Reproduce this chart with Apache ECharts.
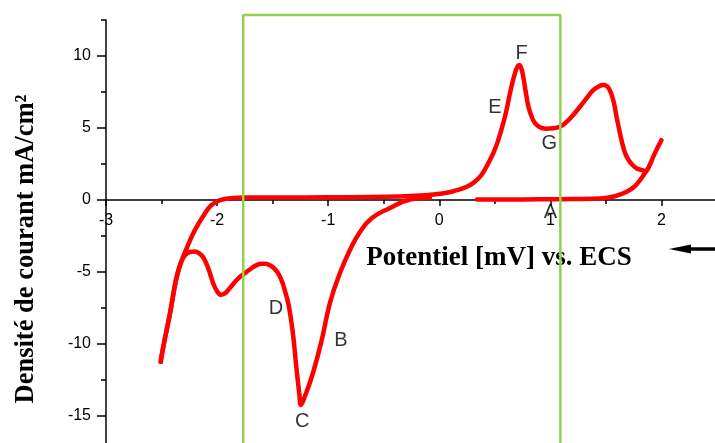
<!DOCTYPE html>
<html>
<head>
<meta charset="utf-8">
<script src="https://cdn.jsdelivr.net/npm/echarts@6/dist/echarts.min.js"></script>
<style>
  html, body { margin: 0; padding: 0; background: #fff; }
  #chart { width: 715px; height: 443px; }
</style>
</head>
<body>
<div id="chart"></div>
<script>
// Cyclic voltammogram: current density (mA/cm²) vs. potential (V vs. ECS)

// Positive-going baseline up to the anodic vertex
const sweepAnodicStart = [
  [0.34, 0.03], [0.6, 0.03], [0.9, 0.04], [1.2, 0.06], [1.45, 0.1], [1.58, 0.25],
  [1.687, 0.56], [1.76, 0.95], [1.807, 1.38], [1.85, 1.85], [1.88, 2.19],
  [1.94, 3.23], [2.0, 4.15]
];

// Return from the anodic vertex: oxidation peaks F and the 1.5 V peak, then the
// flat region and the descent to the cathodic vertex
const sweepReturn = [
  [1.86, 1.98], [1.81, 2.1], [1.777, 2.19], [1.73, 2.5], [1.687, 3.0], [1.655, 3.7],
  [1.627, 4.62], [1.595, 5.8], [1.566, 6.94], [1.53, 7.7], [1.5, 7.95], [1.476, 7.98],
  [1.44, 7.9], [1.386, 7.63], [1.33, 7.1], [1.266, 6.47], [1.2, 5.85], [1.147, 5.43],
  [1.09, 5.1], [1.026, 4.97], [0.96, 4.95], [0.906, 5.04], [0.86, 5.35], [0.832, 5.78],
  [0.805, 6.4], [0.786, 7.16], [0.77, 7.9], [0.756, 8.55], [0.74, 9.1], [0.72, 9.37],
  [0.7, 9.2], [0.681, 8.79], [0.66, 8.2], [0.636, 7.4], [0.615, 6.6], [0.591, 5.78],
  [0.56, 4.9], [0.531, 4.16], [0.495, 3.4], [0.456, 2.77], [0.41, 2.1], [0.366, 1.6],
  [0.31, 1.2], [0.247, 0.91], [0.16, 0.68], [0.067, 0.49], [-0.05, 0.38], [-0.174, 0.3],
  [-0.354, 0.24], [-0.624, 0.2], [-1.0, 0.18], [-1.4, 0.17], [-1.7, 0.16], [-1.884, 0.12],
  [-1.974, -0.02], [-2.05, -0.36], [-2.11, -0.94], [-2.2, -2.1], [-2.27, -3.3],
  [-2.33, -4.45], [-2.37, -5.57], [-2.424, -7.89], [-2.484, -10.2], [-2.508, -11.25]
];

// Reduction branch from the cathodic vertex through peaks D, C and B
const sweepCathodic = [
  [-2.508, -11.25], [-2.484, -10.2], [-2.424, -7.89], [-2.37, -5.57], [-2.33, -4.45],
  [-2.29, -3.85], [-2.245, -3.62], [-2.2, -3.58], [-2.16, -3.72], [-2.124, -4.0],
  [-2.09, -4.55], [-2.064, -5.11], [-2.035, -5.8], [-2.0, -6.35], [-1.965, -6.6],
  [-1.93, -6.5], [-1.9, -6.27], [-1.86, -5.9], [-1.824, -5.57], [-1.78, -5.25],
  [-1.734, -5.0], [-1.69, -4.75], [-1.644, -4.53], [-1.6, -4.44], [-1.569, -4.44],
  [-1.53, -4.52], [-1.494, -4.7], [-1.455, -5.05], [-1.419, -5.6], [-1.39, -6.3],
  [-1.359, -7.2], [-1.335, -8.3], [-1.314, -9.51], [-1.284, -11.83], [-1.26, -13.45],
  [-1.245, -14.25], [-1.209, -13.63], [-1.137, -12.03], [-1.058, -9.74], [-0.984, -7.16],
  [-0.894, -5.08], [-0.804, -3.48], [-0.714, -2.23], [-0.606, -1.26], [-0.444, -0.56],
  [-0.264, 0.03], [-0.084, 0.17]
];

// Point annotations (letter, potential, current density)
const pointNames = ['A', 'B', 'C', 'D', 'E', 'F', 'G'];
const pointX = [1.0, -0.885, -1.233, -1.47, 0.501, 0.742, 0.99];
const pointY = [-0.88, -9.74, -15.42, -7.54, 6.45, 10.2, 3.95];

// Potential window highlighted by the green frame
const windowLeft = -1.765;
const windowRight = 1.09;
const windowTop = 12.85;
const windowBottom = -20;

// Axis ranges and tick spacing
const xMin = -3, xMax = 2.5, xStep = 1;
const yMin = -20, yMax = 12.5, yStep = 5, yMinorStep = 2.5;

// Plot frame (px); the value axis extends below the visible page
const gridTop = 20, gridBottom = -44.7, pageHeight = 443;

const chart = echarts.init(document.getElementById('chart'));

const tickFont = { fontFamily: 'Liberation Sans, Arial, sans-serif', fontSize: 16, color: '#000' };
const axisLine = { lineStyle: { color: '#000', width: 1.5 } };

// Place the potential axis on the j = 0 line
const plotHeight = pageHeight - gridTop - gridBottom;
const zeroFromBottom = plotHeight * (0 - yMin) / (yMax - yMin);

const framePath = [
  [windowLeft, windowBottom], [windowLeft, windowTop],
  [windowRight, windowTop], [windowRight, windowBottom]
];

const curveStyle = { color: '#ff0000', width: 4.5, cap: 'round', join: 'round' };
const curveSmooth = 0.45;

chart.setOption({
  animation: false,
  backgroundColor: '#fff',
  grid: {
    left: 106, right: -2, top: gridTop, bottom: gridBottom,
    containLabel: false, outerBoundsMode: 'none'
  },
  xAxis: {
    type: 'value', min: xMin, max: xMax, interval: xStep,
    position: 'bottom', offset: -zeroFromBottom,
    axisLine: { onZero: false, lineStyle: { color: '#000', width: 1.5 } },
    axisTick: { show: true, inside: false, length: 6, lineStyle: { color: '#000', width: 1.5 } },
    minorTick: { show: true, splitNumber: 2, length: 4, lineStyle: { color: '#000', width: 1.5 } },
    axisLabel: Object.assign({ margin: 13, showMaxLabel: false, showMinLabel: true }, tickFont),
    splitLine: { show: false }
  },
  yAxis: [
    {
      type: 'value', position: 'left', min: yMin, max: yMax, interval: yStep,
      axisLine: Object.assign({ onZero: false }, axisLine),
      axisTick: { show: true, length: 9, lineStyle: { color: '#000', width: 1.5 } },
      axisLabel: Object.assign({ margin: 15, showMaxLabel: false }, tickFont),
      splitLine: { show: false }
    },
    {
      type: 'value', position: 'left', min: yMin, max: yMax, interval: yMinorStep,
      axisLine: { show: false, onZero: false },
      axisTick: { show: true, length: 5, lineStyle: { color: '#000', width: 1.5 } },
      axisLabel: { show: false },
      splitLine: { show: false }
    }
  ],
  series: [
    {
      type: 'line', data: sweepAnodicStart, smooth: curveSmooth, showSymbol: false,
      lineStyle: curveStyle, z: 3
    },
    {
      type: 'line', data: sweepReturn, smooth: curveSmooth, showSymbol: false,
      lineStyle: curveStyle, z: 3
    },
    {
      type: 'line', data: sweepCathodic, smooth: curveSmooth, showSymbol: false,
      lineStyle: curveStyle, z: 3
    },
    {
      type: 'scatter',
      data: pointNames.map((n, i) => ({ name: n, value: [pointX[i], pointY[i]] })),
      symbolSize: 1,
      itemStyle: { color: 'transparent' },
      label: {
        show: true, position: 'inside', formatter: '{b}',
        fontFamily: 'Liberation Sans, Arial, sans-serif', fontSize: 20, color: '#000'
      },
      z: 4
    },
    {
      type: 'line', data: framePath, clip: false, showSymbol: false,
      lineStyle: { color: '#92d050', width: 2.5 }, z: 10
    }
  ],
  graphic: [
    {
      type: 'text', z: 1, x: 26, y: 249, rotation: Math.PI / 2,
      style: {
        text: 'Densité de courant mA/cm²', fill: '#000',
        font: 'bold 26.5px "Liberation Serif", "Times New Roman", serif',
        textAlign: 'center', textVerticalAlign: 'middle'
      }
    },
    {
      type: 'text', z: 1, x: 499, y: 258,
      style: {
        text: 'Potentiel [mV] vs. ECS', fill: '#000',
        font: 'bold 27px "Liberation Serif", "Times New Roman", serif',
        textAlign: 'center', textVerticalAlign: 'middle'
      }
    },
    {
      type: 'line', z: 1,
      shape: { x1: 688, y1: 249, x2: 715, y2: 249 },
      style: { stroke: '#000', lineWidth: 3.5 }
    },
    {
      type: 'polygon', z: 1,
      shape: { points: [[669, 249], [691, 244.5], [691, 253.5]] },
      style: { fill: '#000' }
    }
  ]
});
</script>
</body>
</html>
